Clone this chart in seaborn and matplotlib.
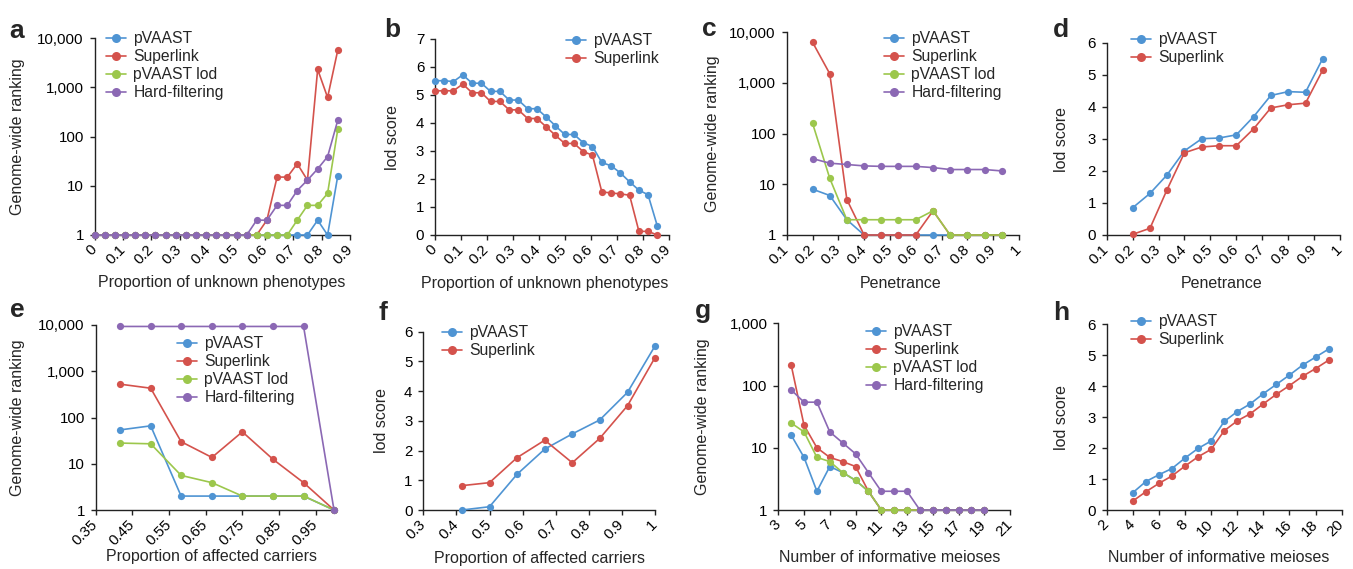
import numpy as np
import pandas as pd
import matplotlib
matplotlib.use("Agg")
import matplotlib.pyplot as plt
import seaborn as sns
from matplotlib.lines import Line2D

# ---- data ----
methods4 = ["pVAAST", "Superlink", "pVAAST lod", "Hard-filtering"]
methods2 = ["pVAAST", "Superlink"]

prop_unknown = [0, 0.036, 0.071, 0.107, 0.143, 0.179, 0.214, 0.25, 0.286, 0.321,
                0.357, 0.393, 0.429, 0.464, 0.5, 0.536, 0.571, 0.607, 0.643, 0.679,
                0.714, 0.75, 0.786, 0.821, 0.857]
a_pvaast = [1, 1, 1, 1, 1, 1, 1, 1, 1, 1, 1, 1, 1, 1, 1, 1, 1, 1, 1, 1, 1, 1, 2, 1, 16]
a_superlink = [1, 1, 1, 1, 1, 1, 1, 1, 1, 1, 1, 1, 1, 1, 1, 1, 1, 2, 15, 15, 28, 13, 2300, 620, 5700]
a_lod = [1, 1, 1, 1, 1, 1, 1, 1, 1, 1, 1, 1, 1, 1, 1, 1, 1, 1, 1, 1, 2, 4, 4, 7, 140]
a_hard = [1, 1, 1, 1, 1, 1, 1, 1, 1, 1, 1, 1, 1, 1, 1, 1, 2, 2, 4, 4, 8, 13, 22, 39, 215]

b_pvaast = [5.51, 5.51, 5.48, 5.72, 5.42, 5.42, 5.13, 5.13, 4.82, 4.82, 4.51, 4.51, 4.21,
            3.90, 3.59, 3.59, 3.30, 3.16, 2.59, 2.47, 2.22, 1.90, 1.60, 1.44, 0.32]
b_superlink = [5.15, 5.15, 5.15, 5.39, 5.08, 5.08, 4.77, 4.77, 4.47, 4.47, 4.16, 4.16, 3.86,
               3.56, 3.27, 3.27, 2.98, 2.85, 1.54, 1.50, 1.47, 1.42, 0.13, 0.13, 0.0]

penetrance = [0.2, 0.267, 0.333, 0.4, 0.467, 0.533, 0.6, 0.667, 0.733, 0.8, 0.867, 0.933]
c_pvaast = [8, 6, 2, 1, 1, 1, 1, 1, 1, 1, 1, 1]
c_superlink = [6300, 1500, 5, 1, 1, 1, 1, 3, 1, 1, 1, 1]
c_lod = [160, 13, 2, 2, 2, 2, 2, 3, 1, 1, 1, 1]
c_hard = [32, 26, 24.5, 23, 22.5, 22.5, 22.5, 21.3, 19.5, 19.5, 19.5, 18.3]

d_pvaast = [0.85, 1.30, 1.88, 2.63, 3.01, 3.03, 3.13, 3.70, 4.36, 4.48, 4.46, 5.51]
d_superlink = [0.02, 0.21, 1.42, 2.57, 2.75, 2.79, 2.79, 3.32, 3.97, 4.07, 4.12, 5.15]

prop_affected = [0.417, 0.5, 0.583, 0.667, 0.75, 0.833, 0.917, 1.0]
e_pvaast = [54, 66, 2, 2, 2, 2, 2, 1]
e_superlink = [525, 430, 30, 13.7, 49, 12.6, 3.9, 1]
e_lod = [28, 27, 5.6, 3.9, 2, 2, 2, 1]
e_hard = [9300, 9300, 9300, 9300, 9300, 9300, 9300, 1]

f_pvaast = [0.0, 0.11, 1.20, 2.05, 2.56, 3.03, 3.96, 5.52]
f_superlink = [0.82, 0.92, 1.76, 2.35, 1.59, 2.41, 3.51, 5.13]

meioses = [4, 5, 6, 7, 8, 9, 10, 11, 12, 13, 14, 15, 16, 17, 18, 19]
g_pvaast = [16, 7, 2, 5, 4, 3, 2, 1, 1, 1, 1, 1, 1, 1, 1, 1]
g_superlink = [214, 23, 10, 7, 6, 5, 2, 1, 1, 1, 1, 1, 1, 1, 1, 1]
g_lod = [25, 18, 7, 6, 4, 3, 2, 1, 1, 1, 1, 1, 1, 1, 1, 1]
g_hard = [85, 54, 54, 18, 12, 8, 4, 2, 2, 2, 1, 1, 1, 1, 1, 1]

h_pvaast = [0.56, 0.92, 1.14, 1.34, 1.68, 1.99, 2.23, 2.86, 3.18, 3.43, 3.76, 4.06, 4.36, 4.68, 4.94, 5.20]
h_superlink = [0.29, 0.59, 0.86, 1.10, 1.42, 1.72, 1.96, 2.56, 2.88, 3.11, 3.43, 3.74, 4.02, 4.32, 4.57, 4.84]

colors4 = ["#4f94d3", "#d4524c", "#9cc74c", "#8b68b4"]

# ---- style ----
sns.set_theme(style="ticks")
plt.rcParams["font.family"] = ["Liberation Sans", "DejaVu Sans"]
plt.rcParams.update({
    "axes.edgecolor": "#222222",
    "axes.linewidth": 1.0,
    "xtick.color": "#222222",
    "ytick.color": "#222222",
    "xtick.labelcolor": "black",
    "ytick.labelcolor": "black",
    "xtick.major.size": 3.8,
    "ytick.major.size": 3.8,
    "xtick.major.width": 1.0,
    "ytick.major.width": 1.0,
    "xtick.labelsize": 10.8,
    "ytick.labelsize": 10.8,
    "xtick.major.pad": 5,
    "ytick.major.pad": 4,
    "axes.labelsize": 11.5,
})

W, H = 1353, 569
fig = plt.figure(figsize=(W / 100, H / 100), dpi=100)


def add_ax(l, r, t, b):
    return fig.add_axes([l / W, 1 - b / H, (r - l) / W, (b - t) / H])


def draw(ax, x, series, names):
    df = pd.DataFrame({
        "x": np.tile(x, len(series)),
        "y": np.concatenate([np.asarray(s, dtype=float) for s in series]),
        "method": np.repeat(names, len(x)),
    })
    sns.lineplot(data=df, x="x", y="y", hue="method", hue_order=names,
                 palette=colors4[:len(names)], marker="o", markersize=5.2,
                 markeredgewidth=0, linewidth=1.2, ax=ax, legend=False,
                 errorbar=None, clip_on=False, zorder=3)


def style(ax, xlim, xticks, xlabels, ylog, ylim, yticks, ylabel, xlabel,
          ylab_x, xlab_x, xlab_y, names, leg_xy, letter, letter_xy):
    if ylog:
        ax.set_yscale("log")
        ax.minorticks_off()
    ax.set_xlim(*xlim)
    ax.set_ylim(*ylim)
    ax.set_xticks(xticks)
    ax.set_xticklabels(xlabels, rotation=45, ha="right", va="center",
                       rotation_mode="anchor")
    ax.set_yticks(yticks)
    if ylog:
        ax.set_yticklabels([f"{v:,}" for v in yticks])
    else:
        ax.set_yticklabels([str(v) for v in yticks])
    ax.tick_params(axis="y", which="minor", left=False)
    sns.despine(ax=ax)
    ax.set_ylabel(ylabel)
    ax.set_xlabel(xlabel)
    pos = ax.get_position()
    # place labels at pixel positions
    ax.yaxis.set_label_coords((ylab_x / W - pos.x0) / pos.width, 0.5)
    ax.yaxis.label.set_va("center")
    ax.xaxis.set_label_coords((xlab_x / W - pos.x0) / pos.width,
                              ((1 - xlab_y / H) - pos.y0) / pos.height)
    ax.xaxis.label.set_va("center")
    handles = [Line2D([], [], color=c, marker="o", markersize=6.5,
                      markeredgewidth=0, linewidth=1.2)
               for c in colors4[:len(names)]]
    ax.legend(handles, names, loc="upper left", frameon=False, fontsize=11.3,
              handlelength=1.25, handletextpad=0.5, labelspacing=0.2,
              borderpad=0, borderaxespad=0,
              bbox_to_anchor=(leg_xy[0] / W, 1 - leg_xy[1] / H),
              bbox_transform=fig.transFigure)
    fig.text(letter_xy[0] / W, 1 - letter_xy[1] / H, letter, fontsize=19,
             fontweight="bold", ha="center", va="baseline")


log4 = [1, 10, 100, 1000, 10000]
tick01 = [round(0.1 * i, 1) for i in range(10)]
lab01 = ["0"] + [f"{v:g}" for v in tick01[1:]]
pen_ticks = [round(0.1 * i, 1) for i in range(1, 11)]
pen_labels = [f"{v:g}" for v in pen_ticks]

# a
ax = add_ax(94.7, 350, 38, 235)
draw(ax, prop_unknown, [a_pvaast, a_superlink, a_lod, a_hard], methods4)
style(ax, (0, 0.9), tick01, lab01, True, (1, 10000), log4,
      "Genome-wide ranking", "Proportion of unknown phenotypes",
      18, 222, 283, methods4, (106, 31), "a", (17, 38))

# b
ax = add_ax(435, 668.5, 39, 235)
draw(ax, prop_unknown, [b_pvaast, b_superlink], methods2)
style(ax, (0, 0.9), tick01, lab01, False, (0, 7), list(range(8)),
      "lod score", "Proportion of unknown phenotypes",
      392, 545, 283, methods2, (566, 33), "b", (392, 37))

# c
ax = add_ax(786.7, 1019, 32, 235)
draw(ax, penetrance, [c_pvaast, c_superlink, c_lod, c_hard], methods4)
style(ax, (0.1, 1.0), pen_ticks, pen_labels, True, (1, 10000), log4,
      "Genome-wide ranking", "Penetrance",
      712, 901, 283, methods4, (884, 31), "c", (709, 36))

# d
ax = add_ax(1106.7, 1340, 43, 235)
draw(ax, penetrance, [d_pvaast, d_superlink], methods2)
style(ax, (0.1, 1.0), pen_ticks, pen_labels, False, (0, 6), list(range(7)),
      "lod score", "Penetrance",
      1062, 1222, 283, methods2, (1131, 32), "d", (1061, 37))

# e
ax = add_ax(95.7, 334, 325, 510)
draw(ax, prop_affected, [e_pvaast, e_superlink, e_lod, e_hard], methods4)
e_ticks = [0.35, 0.45, 0.55, 0.65, 0.75, 0.85, 0.95]
style(ax, (0.35, 1.0), e_ticks, [f"{v:g}" for v in e_ticks], True, (1, 10000), log4,
      "Genome-wide ranking", "Proportion of affected carriers",
      18, 211, 557, methods4, (177, 336), "e", (17, 317))

# f
ax = add_ax(423.3, 655, 331.7, 510)
draw(ax, prop_affected, [f_pvaast, f_superlink], methods2)
f_ticks = [0.3, 0.4, 0.5, 0.6, 0.7, 0.8, 0.9, 1.0]
style(ax, (0.3, 1.0), f_ticks, [f"{v:g}" for v in f_ticks], False, (0, 6), list(range(7)),
      "lod score", "Proportion of affected carriers",
      382, 540, 558, methods2, (442, 325), "f", (383, 320))

# g
ax = add_ax(778.3, 1010, 323.3, 510)
draw(ax, meioses, [g_pvaast, g_superlink, g_lod, g_hard], methods4)
g_ticks = list(range(3, 22, 2))
style(ax, (3, 21), g_ticks, [str(v) for v in g_ticks], True, (1, 1000), [1, 10, 100, 1000],
      "Genome-wide ranking", "Number of informative meioses",
      703, 890, 558, methods4, (866, 324), "g", (703, 318))

# h
ax = add_ax(1106.7, 1341.7, 324.3, 510)
draw(ax, meioses, [h_pvaast, h_superlink], methods2)
h_ticks = list(range(2, 21, 2))
style(ax, (2, 20), h_ticks, [str(v) for v in h_ticks], False, (0, 6), list(range(7)),
      "lod score", "Number of informative meioses",
      1062, 1219, 558, methods2, (1131, 314), "h", (1061, 320))

fig.savefig("out.png", dpi=100)
